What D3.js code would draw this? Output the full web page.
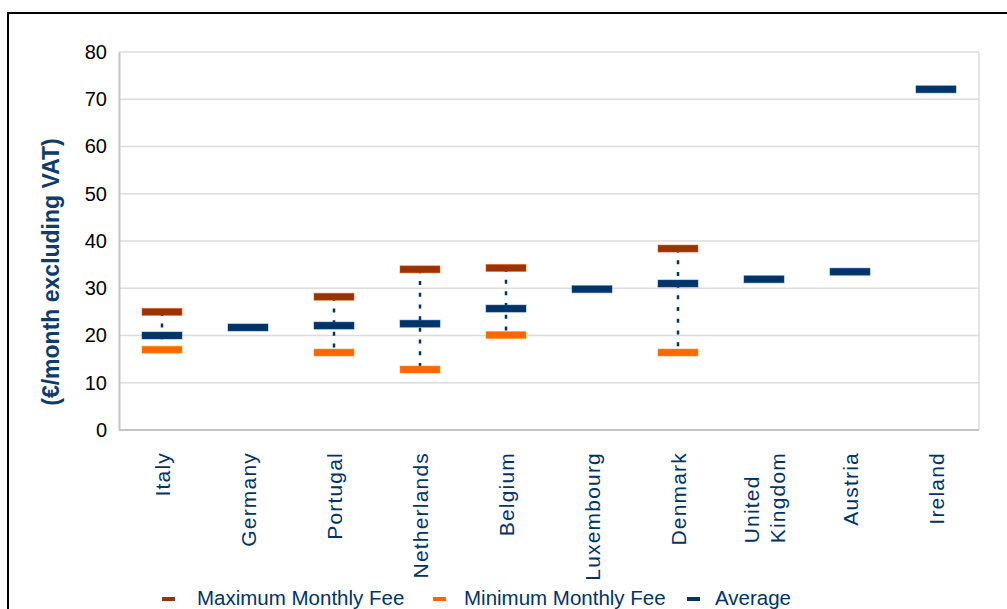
<!DOCTYPE html>
<html>
<head>
<meta charset="utf-8">
<script src="https://cdn.jsdelivr.net/npm/d3@7"></script>
<style>
  body { margin: 0; background: #fff; }
  svg { display: block; font-family: "Liberation Sans", Arial, sans-serif; }
</style>
</head>
<body>
<script>
// data
const categories = ['Italy', 'Germany', 'Portugal', 'Netherlands', 'Belgium', 'Luxembourg', 'Denmark', 'United\nKingdom', 'Austria', 'Ireland'];
const maxFee = [25, null, 28.2, 34, 34.3, null, 38.4, null, null, null];
const minFee = [17, null, 16.4, 12.8, 20.1, null, 16.4, null, null, null];
const average = [20, 21.7, 22.1, 22.5, 25.7, 29.8, 31, 31.9, 33.5, 72.1];
const yTicks = [0, 10, 20, 30, 40, 50, 60, 70, 80];
const seriesNames = ['Maximum Monthly Fee', 'Minimum Monthly Fee', 'Average'];

const W = 1007, H = 609;
const margin = { top: 52, right: 28, bottom: 179, left: 119 };
const width = W - margin.left - margin.right;
const height = H - margin.top - margin.bottom;
const navy = '#003366', brown = '#993300', orange = '#ff6600';

const svg = d3.select('body').append('svg').attr('width', W).attr('height', H);

// outer chart frame (only top and left visible)
svg.append('path').attr('d', `M8,${H} V13 H${W}`).attr('fill', 'none').attr('stroke', '#000').attr('stroke-width', 2);

const g = svg.append('g').attr('transform', `translate(${margin.left},${margin.top})`);

const x = d3.scaleBand().domain(categories).range([0, width]);
const y = d3.scaleLinear().domain([0, 80]).range([height, 0]);

// gridlines
g.selectAll('.grid').data(yTicks).enter().append('line')
  .attr('x1', 0).attr('x2', width)
  .attr('y1', d => y(d)).attr('y2', d => y(d))
  .attr('stroke', '#dcdcdc').attr('stroke-width', 1.5);
g.append('line').attr('x1', width).attr('x2', width).attr('y1', 0).attr('y2', height)
  .attr('stroke', '#dcdcdc').attr('stroke-width', 1.5);

// y axis
const yAxis = g.append('g').call(d3.axisLeft(y).tickValues(yTicks).tickSize(0).tickPadding(12));
yAxis.select('.domain').attr('stroke', '#c4c4c4').attr('stroke-width', 2);
yAxis.selectAll('text').attr('font-size', 20).attr('fill', '#000').attr('font-family', '"Liberation Sans", Arial, sans-serif');

// x axis line
g.append('line').attr('x1', 0).attr('x2', width).attr('y1', height).attr('y2', height)
  .attr('stroke', '#c4c4c4').attr('stroke-width', 2);

// x labels, rotated
const labelTop = 452 - margin.top;
categories.forEach(c => {
  const lines = c.split('\n');
  const cx = x(c) + x.bandwidth() / 2;
  const t = g.append('text').attr('font-size', 21).attr('letter-spacing', 1.2).attr('fill', navy);
  const base0 = cx + 8 - (lines.length - 1) * 13;
  const spans = lines.map((ln, i) => t.append('tspan').text(ln));
  const maxLen = d3.max(spans, s => s.node().getComputedTextLength());
  t.remove();
  lines.forEach((ln, i) => {
    const bx = base0 + i * 26;
    const multi = lines.length > 1;
    g.append('text')
      .attr('font-size', 21).attr('letter-spacing', 1.2).attr('fill', navy)
      .attr('text-anchor', multi ? 'start' : 'end')
      .attr('transform', `translate(${bx},${multi ? labelTop + maxLen : labelTop}) rotate(-90)`)
      .text(ln);
  });
});

// y title
svg.append('text')
  .attr('transform', 'translate(59,272) rotate(-90)')
  .attr('text-anchor', 'middle')
  .attr('font-size', 23).attr('font-weight', 'bold').attr('fill', '#0d3c6e')
  .text('(€/month excluding VAT)');

// high-low dotted lines
const rows = categories.map((c, i) => ({ c, max: maxFee[i], min: minFee[i], avg: average[i] }));
g.selectAll('.hilo').data(rows.filter(d => d.max != null)).enter().append('line')
  .attr('x1', d => x(d.c) + x.bandwidth() / 2).attr('x2', d => x(d.c) + x.bandwidth() / 2)
  .attr('y1', d => y(d.max)).attr('y2', d => y(d.min))
  .attr('stroke', navy).attr('stroke-width', 2.5).attr('stroke-dasharray', '4,7.7');

// dash markers
const mw = 40, mh = 7;
function marks(key, color) {
  g.selectAll('.m-' + key).data(rows.filter(d => d[key] != null)).enter().append('rect')
    .attr('x', d => x(d.c) + x.bandwidth() / 2 - mw / 2)
    .attr('y', d => y(d[key]) - mh / 2)
    .attr('width', mw).attr('height', mh)
    .attr('fill', color)
    .attr('stroke', d3.color(color).brighter(1.2)).attr('stroke-opacity', 0.5).attr('stroke-width', 1);
}
marks('max', brown);
marks('min', orange);
marks('avg', navy);

// legend
const legendItems = [
  { name: seriesNames[0], color: brown, mx: 162, tx: 197 },
  { name: seriesNames[1], color: orange, mx: 433, tx: 464 },
  { name: seriesNames[2], color: navy, mx: 687, tx: 715 }
];
const lg = svg.selectAll('.legend').data(legendItems).enter().append('g');
lg.append('rect').attr('x', d => d.mx).attr('y', 597).attr('width', 13).attr('height', 4).attr('fill', d => d.color);
lg.append('text').attr('x', d => d.tx).attr('y', 605)
  .attr('font-size', 20.5).attr('fill', navy).text(d => d.name);
</script>
</body>
</html>
